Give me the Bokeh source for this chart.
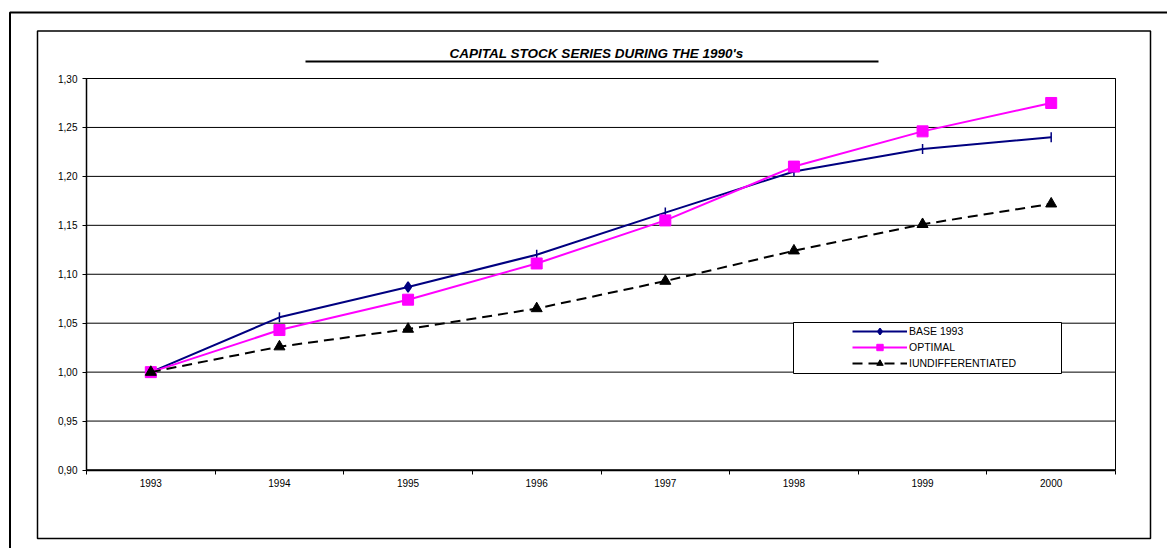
from bokeh.plotting import figure
from bokeh.models import (FixedTicker, CustomJSTickFormatter, Range1d, Legend, LegendItem,
                          BoxAnnotation, Label, ColumnDataSource)
from bokeh.embed import file_html
from bokeh.resources import INLINE
import math

# ---- data ----
years = ["1993", "1994", "1995", "1996", "1997", "1998", "1999", "2000"]
base_1993 = [1.000, 1.056, 1.087, 1.120, 1.163, 1.205, 1.228, 1.240]
optimal = [1.000, 1.043, 1.074, 1.111, 1.155, 1.210, 1.246, 1.275]
iundifferentiated = [1.000, 1.026, 1.044, 1.065, 1.093, 1.124, 1.151, 1.172]
y_ticks = [0.90, 0.95, 1.00, 1.05, 1.10, 1.15, 1.20, 1.25, 1.30]
series_names = ["BASE 1993", "OPTIMAL", "IUNDIFFERENTIATED"]
title_text = "CAPITAL STOCK SERIES DURING THE 1990's"

# marker style per point for the base series (as drawn in the reference)
base_markers = ["diamond", "dash", "diamond", "dash", "dash", "dash", "dash", "dash"]

# ---- layout constants (pixels on the canvas) ----
W, H = 1167, 548
PX_L, PX_R, PY_T, PY_B = 86, 1115, 78, 469.5
FONT = "Liberation Sans"

n = len(years)
xs = list(range(n))
x0, x1 = -0.5, n - 0.5
y0, y1 = y_ticks[0], y_ticks[-1]
kx = (PX_R - PX_L) / (x1 - x0)
ky = (PY_B - PY_T) / (y1 - y0)
xr_start = x0 - PX_L / kx
yr_end = y1 + PY_T / ky

base_angles = [0 if m == "diamond" else math.pi / 2 for m in base_markers]
src_base = ColumnDataSource(dict(x=xs, y=base_1993, m=base_markers, a=base_angles))
src_opt = ColumnDataSource(dict(x=xs, y=optimal))
src_iu = ColumnDataSource(dict(x=xs, y=iundifferentiated))

p = figure(width=W, height=H, output_backend="svg", toolbar_location=None,
           x_range=Range1d(xr_start, xr_start + W / kx),
           y_range=Range1d(yr_end - H / ky, yr_end),
           min_border=0, min_border_left=0, min_border_right=0,
           min_border_top=0, min_border_bottom=0,
           background_fill_color="white", border_fill_color="white")
p.outline_line_color = None
p.xgrid.visible = False
p.ygrid.visible = False

# horizontal grid lines
p.segment(x0=[x0] * len(y_ticks), x1=[x1] * len(y_ticks), y0=y_ticks, y1=y_ticks,
          line_color="black", line_width=1, level="underlay")
# plot-area outline
p.add_layout(BoxAnnotation(left=x0, right=x1, bottom=y0, top=y1, fill_alpha=0,
                           line_color="black", line_alpha=1, line_width=1, level="underlay"))

# axes placed at the plot-area edges
p.xaxis.fixed_location = y0
p.xaxis.bounds = (x0, x1)
p.xaxis.ticker = FixedTicker(ticks=xs, minor_ticks=[i - 0.5 for i in range(n + 1)])
p.xaxis.major_label_overrides = {i: y for i, y in enumerate(years)}
p.xaxis.major_tick_line_color = None
p.xaxis.major_tick_out = 0
p.xaxis.major_tick_in = 0
p.xaxis.minor_tick_in = 0
p.xaxis.minor_tick_out = 4
p.xaxis.minor_tick_line_color = "black"
p.xaxis.major_label_standoff = 5

p.yaxis.fixed_location = x0
p.yaxis.bounds = (y0, y1)
p.yaxis.ticker = FixedTicker(ticks=y_ticks, minor_ticks=[])
p.yaxis.formatter = CustomJSTickFormatter(code="return tick.toFixed(2).replace('.', ',');")
p.yaxis.major_tick_in = 0
p.yaxis.major_tick_out = 4
p.yaxis.major_tick_line_color = "black"
p.yaxis.major_label_standoff = 5

for ax in (p.xaxis, p.yaxis):
    ax.axis_line_color = "black"
    ax.axis_line_width = 1.5
    ax.major_label_text_font = FONT
    ax.major_label_text_font_size = "10px"
    ax.major_label_text_color = "black"

# series
l1 = p.line("x", "y", source=src_base, line_color="#000080", line_width=2)
s1 = p.scatter("x", "y", source=src_base, marker="m", angle="a", size=10,
               fill_color="#000080", line_color="#000080", line_width=1.5)
l2 = p.line("x", "y", source=src_opt, line_color="#FF00FF", line_width=2)
s2 = p.scatter("x", "y", source=src_opt, marker="square", size=11,
               fill_color="#FF00FF", line_color="#FF00FF")
l3 = p.line("x", "y", source=src_iu, line_color="black", line_width=2, line_dash="10 6")
s3 = p.scatter("x", "y", source=src_iu, marker="triangle", size=11,
               fill_color="black", line_color="black")

# outer & inner frames, title with underline
def canvas_box(l, r, t, b, **kw):
    return BoxAnnotation(left=l, right=r, top=t, bottom=b,
                         left_units="canvas", right_units="canvas",
                         top_units="canvas", bottom_units="canvas", **kw)

p.add_layout(canvas_box(9.5, W + 20, 12, H + 20, fill_alpha=0,
                        line_color="black", line_alpha=1, line_width=2))
p.add_layout(canvas_box(37, 1150, 30.5, 538, fill_alpha=0,
                        line_color="black", line_alpha=1, line_width=1.5))
p.add_layout(Label(x=596, y=52.5, x_units="canvas", y_units="canvas", text=title_text,
                   text_font=FONT, text_font_size="13.5px", text_font_style="bold italic",
                   text_align="center", text_baseline="alphabetic", text_color="black"))
p.add_layout(canvas_box(305, 878, 60, 62, fill_color="black", fill_alpha=1, line_alpha=0))

# legend box and legend
p.add_layout(canvas_box(793, 1061, 322, 373, fill_color="white", fill_alpha=1,
                        line_color="black", line_alpha=1, line_width=1))

legend = Legend(items=[LegendItem(label=series_names[0], renderers=[l1, s1], index=0),
                       LegendItem(label=series_names[1], renderers=[l2, s2]),
                       LegendItem(label=series_names[2], renderers=[l3, s3])],
                location=(852, H - 371), padding=0, margin=0, spacing=0,
                glyph_width=55, glyph_height=16, label_height=16, label_standoff=2,
                border_line_color=None, background_fill_alpha=0,
                label_text_font=FONT, label_text_font_size="10.5px", label_text_color="black")
p.add_layout(legend)

open("out.html", "w").write(file_html(p, INLINE))
